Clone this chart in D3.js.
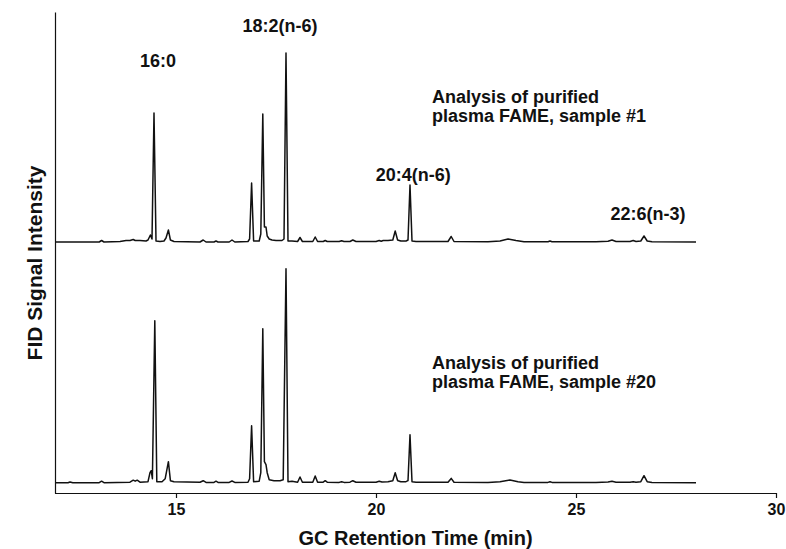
<!DOCTYPE html>
<html>
<head>
<meta charset="utf-8">
<script src="https://cdn.jsdelivr.net/npm/d3@7"></script>
<style>
  body { margin: 0; background: #fff; }
  text { font-family: "Liberation Sans", Arial, Helvetica, sans-serif; font-weight: bold; fill: #111; }
</style>
</head>
<body>
<div id="canvas"></div>
<script>
// GC retention time (min) vs FID signal (arbitrary units)
const sample1 = [
  [12.0, 0], [13.08, 0], [13.14, 1.5], [13.2, 0], [13.6, 0.5], [13.75, 1.5], [13.85, 1.5],
  [13.93, 2.5], [13.98, 1.5], [14.1, 1.5], [14.25, 1], [14.3, 2], [14.36, 7], [14.4, 3],
  [14.45, 129], [14.5, 1], [14.6, 0.5], [14.7, 1], [14.75, 4], [14.81, 12], [14.86, 2],
  [14.95, 0.5], [15.6, 0], [15.68, 2], [15.75, 0], [15.95, 0], [16.0, 1], [16.05, 0],
  [16.33, 0], [16.4, 2], [16.47, 0], [16.8, 0.5], [16.84, 3], [16.89, 59], [16.94, 1],
  [17.08, 1], [17.12, 8], [17.17, 128], [17.21, 15], [17.25, 15], [17.28, 6], [17.33, 3],
  [17.4, 2], [17.5, 1.5], [17.65, 1.5], [17.7, 3], [17.75, 189], [17.8, 1], [17.9, 1],
  [18.04, 0.5], [18.1, 4.5], [18.16, 0.5], [18.42, 0.5], [18.48, 5], [18.54, 0.5],
  [18.68, 0.5], [18.73, 1.5], [18.78, 0.5], [19.08, 0.5], [19.14, 1.2], [19.2, 0.5],
  [19.35, 0.5], [19.42, 2], [19.5, 0.5], [20.0, 0.5], [20.08, 1.5], [20.13, 0.8],
  [20.18, 1.5], [20.3, 1.5], [20.42, 2], [20.48, 11], [20.54, 2], [20.62, 1], [20.75, 1],
  [20.8, 2], [20.85, 57], [20.9, 1], [21.0, 0.5], [21.8, 0.5], [21.88, 5.5], [21.95, 0.5],
  [22.8, 0.3], [23.1, 1], [23.3, 3], [23.5, 1.5], [23.7, 0.3], [24.3, 0.3], [24.35, 1],
  [24.4, 0.3], [25.5, 0.3], [25.8, 0.8], [25.9, 2], [26.0, 0.5], [26.35, 0.5], [26.43, 1.5],
  [26.5, 0.5], [26.62, 1], [26.7, 6], [26.78, 1], [26.9, 0.3], [28.0, 0]
];

const sample20 = [
  [12.0, 0], [12.3, 0], [12.35, 0.7], [12.42, 0], [13.08, 0], [13.14, 1.5], [13.2, 0],
  [13.85, 0.5], [13.93, 2.5], [13.98, 1.5], [14.03, 2.5], [14.1, 0.5], [14.3, 1], [14.35, 10],
  [14.38, 12], [14.41, 4], [14.47, 162], [14.52, 1], [14.65, 1], [14.73, 4], [14.81, 21],
  [14.86, 2], [14.95, 1], [15.6, 0.5], [15.68, 2], [15.75, 0.3], [15.95, 0.3], [16.0, 1.5],
  [16.05, 0.3], [16.33, 0.3], [16.4, 1.7], [16.47, 0.3], [16.8, 0.5], [16.84, 4], [16.89, 57],
  [16.94, 1], [17.08, 1.5], [17.12, 10], [17.17, 154], [17.21, 21], [17.25, 18], [17.28, 10],
  [17.33, 3], [17.45, 2], [17.6, 2], [17.68, 3], [17.75, 214], [17.8, 1], [17.9, 1.5],
  [18.04, 0.5], [18.1, 5.7], [18.16, 0.5], [18.42, 0.5], [18.48, 6.7], [18.54, 0.5],
  [18.68, 0.5], [18.73, 2], [18.78, 0.5], [19.08, 0.3], [19.14, 1], [19.2, 0.3], [19.35, 0.5],
  [19.42, 2], [19.5, 0.5], [20.0, 0.5], [20.08, 1.5], [20.15, 0.8], [20.3, 1], [20.42, 2],
  [20.48, 10], [20.54, 2], [20.62, 1], [20.75, 1], [20.8, 2], [20.85, 48], [20.9, 1],
  [21.0, 0.5], [21.8, 0.5], [21.88, 4.3], [21.95, 0.5], [22.8, 0.3], [23.1, 1], [23.35, 2.7],
  [23.55, 1], [23.7, 0.3], [24.3, 0.3], [24.35, 1], [24.4, 0.3], [25.5, 0.3], [25.8, 0.7],
  [25.9, 1.5], [26.0, 0.5], [26.35, 0.5], [26.43, 1], [26.5, 0.5], [26.62, 1], [26.7, 7],
  [26.78, 1], [26.9, 0.3], [28.0, 0]
];

const xTicks = [15, 20, 25, 30];
const peakNames = ["16:0", "18:2(n-6)", "20:4(n-6)", "22:6(n-3)"];
const peakLabelTime = [14.55, 17.6, 20.93, 26.8];
const peakLabelSignal = [175, 210, 61, 22];
const sampleTitles = [
  ["Analysis of purified", "plasma FAME, sample #1"],
  ["Analysis of purified", "plasma FAME, sample #20"]
];

const width = 786;
const height = 549;
const left = 55;
const axisY = 493;

const svg = d3
  .select("#canvas")
  .append("svg")
  .attr("width", width)
  .attr("height", height)
  .attr("viewBox", [0, 0, width, height]);

const xScale = d3.scaleLinear([12, 30], [56, 776]);
// one signal scale per stacked chromatogram
const yTop = d3.scaleLinear([0, 230], [242, 12]);
const yBottom = d3.scaleLinear([0, 230], [482.7, 252.7]);
const yFrame = d3.scaleLinear([0, 1], [axisY, 12]);

// x axis
svg
  .append("g")
  .attr("transform", `translate(0,${axisY})`)
  .call(d3.axisBottom(xScale).tickValues(xTicks).tickSize(5).tickSizeOuter(0).tickPadding(6))
  .call((g) => g.select(".domain").attr("d", `M${left},0.5H${xScale(30)}`))
  .call((g) => g.selectAll("line").attr("stroke", "#111").attr("stroke-width", 1.2))
  .call((g) => g.select(".domain").attr("stroke", "#111").attr("stroke-width", 1.2))
  .call((g) =>
    g.selectAll("text")
      .attr("font-size", 16)
      .attr("font-family", "'Liberation Sans', Arial, sans-serif")
      .attr("font-weight", "bold")
      .attr("fill", "#111")
  );

// y axis, a bare line
svg
  .append("g")
  .attr("transform", `translate(${left},0)`)
  .call(d3.axisLeft(yFrame).ticks(0).tickSizeOuter(0))
  .call((g) => g.select(".domain").attr("stroke", "#111").attr("stroke-width", 1.2));

svg
  .append("text")
  .attr("x", (left + xScale(30)) / 2)
  .attr("y", 545)
  .attr("text-anchor", "middle")
  .attr("font-size", 20)
  .text("GC Retention Time (min)");

svg
  .append("text")
  .attr("transform", "translate(42,263) rotate(-90)")
  .attr("text-anchor", "middle")
  .attr("font-size", 21)
  .text("FID Signal Intensity");

// Draw chromatograms
const traces = [
  { data: sample1, y: yTop },
  { data: sample20, y: yBottom }
];

for (const tr of traces) {
  const line = d3
    .line()
    .x((d) => xScale(d[0]))
    .y((d) => tr.y(d[1]));

  svg
    .append("path")
    .attr("fill", "none")
    .attr("stroke", "#111")
    .attr("stroke-width", 1.5)
    .attr("stroke-linejoin", "round")
    .attr("d", line(tr.data));
}

// peak labels on the upper trace
svg
  .selectAll(".peak")
  .data(peakNames)
  .enter()
  .append("text")
  .attr("class", "peak")
  .attr("x", (d, i) => xScale(peakLabelTime[i]))
  .attr("y", (d, i) => yTop(peakLabelSignal[i]))
  .attr("text-anchor", "middle")
  .attr("font-size", 18)
  .text((d) => d);

// sample captions
const captionTime = 21.4;
const captionSignal = [139, 114];
[yTop, yBottom].forEach((y, k) => {
  const t = svg
    .append("text")
    .attr("x", xScale(captionTime))
    .attr("y", y(captionSignal[k]))
    .attr("font-size", 18);
  sampleTitles[k].forEach((s, j) => {
    t.append("tspan")
      .attr("x", xScale(captionTime))
      .attr("dy", j === 0 ? 0 : 19)
      .text(s);
  });
});
</script>
</body>
</html>
